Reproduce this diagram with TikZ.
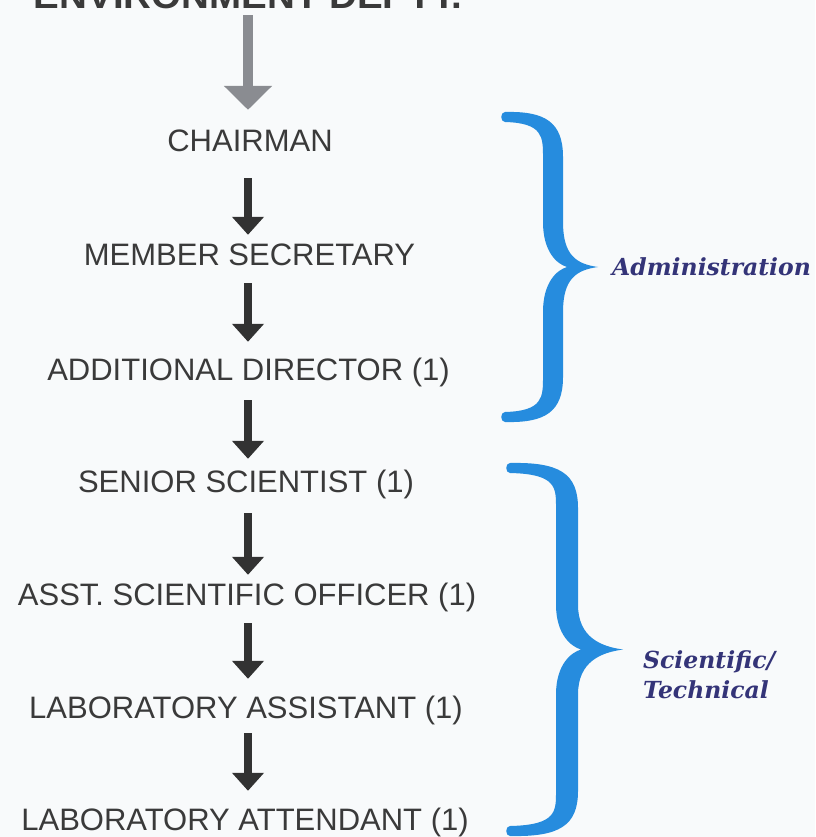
\documentclass[tikz,border=0pt]{standalone}
\usepackage{fontspec}
\setmainfont{Liberation Sans}
\newfontfamily\labfont{DejaVu Serif}
\usetikzlibrary{arrows.meta}
\definecolor{bgcol}{RGB}{248,250,251}
\definecolor{txtcol}{RGB}{58,58,58}
\definecolor{arrcol}{RGB}{50,50,50}
\definecolor{grayarr}{RGB}{138,140,145}
\definecolor{bracecol}{RGB}{38,140,222}
\definecolor{labcol}{RGB}{52,52,120}
\newcommand\mybrace[6]{%
\pgfmathsetmacro\bM{(#2+#3)/2}%
\fill[bracecol] (#1,#2)
 .. controls ({#4-8},{#2-1}) and ({#4+#6},{#2+10}) .. ({#4+#6},{#2+45})
 -- ({#4+#6},{\bM-45})
 .. controls ({#4+#6},{\bM-12}) and ({#5-22},{\bM-3}) .. (#5,\bM)
 .. controls ({#5-22},{\bM+3}) and ({#4+#6},{\bM+12}) .. ({#4+#6},{\bM+45})
 -- ({#4+#6},{#3-45})
 .. controls ({#4+#6},{#3-10}) and ({#4-8},{#3+1}) .. (#1,#3)
 .. controls ({#1-5},{#3}) and ({#1-5},{#3-10}) .. (#1,{#3-10})
 .. controls ({#4-10},{#3-11}) and ({#4-#6},{#3-25}) .. ({#4-#6},{#3-45})
 -- ({#4-#6},{\bM+45})
 .. controls ({#4-#6},{\bM+15}) and ({#4+4},{\bM+3}) .. ({#4+14},\bM)
 .. controls ({#4+4},{\bM-3}) and ({#4-#6},{\bM-15}) .. ({#4-#6},{\bM-45})
 -- ({#4-#6},{#2+45})
 .. controls ({#4-#6},{#2+25}) and ({#4-10},{#2+11}) .. (#1,{#2+10})
 .. controls ({#1-5},{#2+10}) and ({#1-5},{#2}) .. (#1,#2) -- cycle;
}
\tikzset{
  post/.style={font=\fontsize{31}{31}\selectfont, text=txtcol, inner sep=0pt,
    text height=22pt, text depth=0pt, anchor=base},
  blackarr/.style={draw=arrcol, line width=8pt, -{Triangle[width=31pt,length=18pt]}},
  grayarrow/.style={draw=grayarr, line width=10pt, -{Triangle[width=47pt,length=24pt]}},
  lab/.style={font=\labfont\bfseries\itshape\fontsize{23.5}{30}\selectfont, text=labcol,
    inner sep=0pt, anchor=west, align=left}
}
\begin{document}
\begin{tikzpicture}[x=1pt,y=-1pt]
\path[fill=bgcol] (0,0) rectangle (815,837);
\useasboundingbox (0,0) rectangle (815,837);
\clip (0,0) rectangle (815,837);
\coordinate (ax) at (248,0);
\node[post, font=\bfseries\fontsize{36}{36}\selectfont, xscale=1.07] (top) at (248,9) {ENVIRONMENT DEPTT.};
\node[post] (chair) at (250,152) {CHAIRMAN};
\node[post] (mem) at (249.5,265) {MEMBER SECRETARY};
\node[post] (add) at (248.5,380) {ADDITIONAL DIRECTOR (1)};
\node[post] (sen) at (246,492) {SENIOR SCIENTIST (1)};
\node[post] (asst) at (247,605) {ASST. SCIENTIFIC OFFICER (1)};
\node[post] (lab) at (246,718) {LABORATORY ASSISTANT (1)};
\node[post] (att) at (245,830) {LABORATORY ATTENDANT (1)};
\draw[grayarrow, shorten <=6pt, shorten >=20pt] (ax |- top.south) -- (ax |- chair.north);
\draw[blackarr, shorten <=26pt, shorten >=8pt] (ax |- chair.south) -- (ax |- mem.north);
\draw[blackarr, shorten <=18pt, shorten >=16pt] (ax |- mem.south) -- (ax |- add.north);
\draw[blackarr, shorten <=20pt, shorten >=11pt] (ax |- add.south) -- (ax |- sen.north);
\draw[blackarr, shorten <=21pt, shorten >=8pt] (ax |- sen.south) -- (ax |- asst.north);
\draw[blackarr, shorten <=18pt, shorten >=17pt] (ax |- asst.south) -- (ax |- lab.north);
\draw[blackarr, shorten <=15pt, shorten >=17pt] (ax |- lab.south) -- (ax |- att.north);
\mybrace{505}{112}{422}{553}{598}{10}
\mybrace{510}{463}{836}{567}{623}{11}
\node[lab] (adm) at (612,267) {Administration};
\node[lab] (sci) at (643,675) {Scientific/\\Technical};
\end{tikzpicture}
\end{document}
